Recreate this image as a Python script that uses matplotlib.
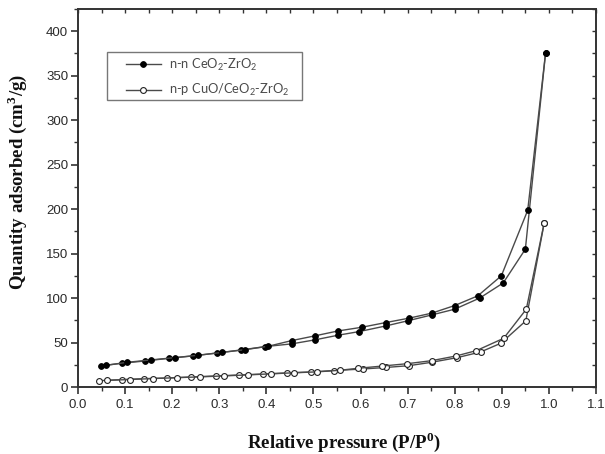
import matplotlib
matplotlib.use("Agg")
import matplotlib.pyplot as plt
from matplotlib.ticker import MultipleLocator
from matplotlib.patches import Rectangle

# ---- data ----
p_ads_nn = [0.049, 0.093, 0.143, 0.194, 0.245, 0.296, 0.347, 0.397, 0.454, 0.503,
            0.552, 0.597, 0.654, 0.700, 0.751, 0.800, 0.853, 0.903, 0.950, 0.993]
q_ads_nn = [23.7, 26.7, 29.3, 32.3, 35.0, 38.3, 41.7, 45.4, 48.5, 53.0,
            58.2, 62.3, 68.7, 74.4, 81.0, 87.5, 100.0, 117.0, 155.0, 376.0]
p_des_nn = [0.993, 0.955, 0.899, 0.849, 0.800, 0.751, 0.703, 0.654, 0.603, 0.552,
            0.503, 0.454, 0.404, 0.355, 0.305, 0.255, 0.205, 0.154, 0.105, 0.059]
q_des_nn = [376.0, 198.7, 125.0, 102.5, 91.6, 83.0, 77.4, 72.5, 67.2, 63.0,
            57.5, 52.2, 45.8, 42.0, 38.8, 35.7, 33.0, 30.4, 27.8, 24.4]

p_ads_np = [0.045, 0.093, 0.141, 0.190, 0.241, 0.292, 0.342, 0.392, 0.443, 0.494,
            0.544, 0.606, 0.655, 0.703, 0.751, 0.805, 0.855, 0.898, 0.951, 0.990]
q_ads_np = [7.1, 8.3, 9.4, 10.1, 11.3, 12.4, 13.5, 14.6, 15.8, 16.9,
            18.5, 20.3, 22.0, 24.0, 27.8, 33.0, 39.4, 49.2, 74.4, 184.4]
p_des_np = [0.990, 0.952, 0.904, 0.846, 0.803, 0.751, 0.699, 0.645, 0.594, 0.556,
            0.507, 0.459, 0.410, 0.360, 0.311, 0.260, 0.210, 0.160, 0.110, 0.062]
q_des_np = [184.4, 87.5, 54.8, 40.9, 34.9, 29.6, 26.2, 23.5, 21.0, 18.8,
            17.0, 16.0, 14.8, 13.6, 12.5, 11.4, 10.5, 9.5, 8.4, 7.5]

labels = ["n-n CeO$_2$-ZrO$_2$", "n-p CuO/CeO$_2$-ZrO$_2$"]

plt.rcParams['font.family'] = ['Liberation Sans', 'DejaVu Sans']
plt.rcParams['mathtext.fontset'] = 'custom'
plt.rcParams['mathtext.rm'] = 'Lato'
plt.rcParams['mathtext.bf'] = 'Liberation Serif:bold'

fig = plt.figure(figsize=(6.05, 4.54), dpi=100)
ax = fig.add_axes([78/605, 1-387/454, (596-78)/605, (387-9)/454])

line_col = '#4a4a4a'
l1, = ax.plot(p_ads_nn, q_ads_nn, '-', color=line_col, lw=1.0, marker='o', ms=4.2,
              mfc='black', mec='black', mew=0.6, label=labels[0], zorder=3)
ax.plot(p_des_nn, q_des_nn, '-', color=line_col, lw=1.0, marker='o', ms=4.2,
        mfc='black', mec='black', mew=0.6, zorder=3)
l2, = ax.plot(p_ads_np, q_ads_np, '-', color=line_col, lw=1.0, marker='o', ms=4.2,
              mfc='white', mec='#222222', mew=0.8, label=labels[1], zorder=3)
ax.plot(p_des_np, q_des_np, '-', color=line_col, lw=1.0, marker='o', ms=4.2,
        mfc='white', mec='#222222', mew=0.8, zorder=3)

ax.set_xlim(0, 1.1)
ax.set_ylim(0, 425)
ax.xaxis.set_major_locator(MultipleLocator(0.1))
ax.xaxis.set_minor_locator(MultipleLocator(0.05))
ax.yaxis.set_major_locator(MultipleLocator(50))
ax.yaxis.set_minor_locator(MultipleLocator(25))
ax.xaxis.set_major_formatter(matplotlib.ticker.FormatStrFormatter('%.1f'))

spine_col = '#333333'
for s in ax.spines.values():
    s.set_color(spine_col)
    s.set_linewidth(1.4)

ax.tick_params(which='major', direction='out', length=5, width=1.2, color=spine_col,
               labelsize=9.5, labelcolor='#2a2a2a')
ax.tick_params(which='minor', direction='out', length=3, width=1.0, color=spine_col)
ax.tick_params(axis='x', which='major', pad=4)
ax.tick_params(axis='y', which='major', pad=2)

# top/right inward ticks without labels
sx = ax.secondary_xaxis('top')
sx.xaxis.set_major_locator(MultipleLocator(0.05))
sx.tick_params(direction='in', length=3, width=1.0, color=spine_col, labeltop=False)
sx.spines['top'].set_visible(False)
sy = ax.secondary_yaxis('right')
sy.yaxis.set_major_locator(MultipleLocator(25))
sy.tick_params(direction='in', length=3, width=1.0, color=spine_col, labelright=False)
sy.spines['right'].set_visible(False)

ax.set_xlabel("Relative pressure (P/P$^{\\mathbf{0}}$)", family='Liberation Serif',
              fontweight='bold', fontsize=13.6, color='#111111', va='center', ha='center')
ax.set_ylabel("Quantity adsorbed (cm$^{\\mathbf{3}}$/g)", family='Liberation Serif',
              fontweight='bold', fontsize=13.6, color='#111111', va='center', ha='center')
ax.xaxis.set_label_coords((344-78)/518, -(442-387)/378)
ax.yaxis.set_label_coords(-(78-17)/518, (387-182)/378)

# legend box drawn separately
ax.add_patch(Rectangle(((107-78)/518, (387-100)/378), (302-107)/518, 48/378,
                       transform=ax.transAxes, fill=True, facecolor='white',
                       edgecolor='#777777', lw=1.0, zorder=4))
leg = ax.legend(handles=[l1, l2], loc='upper left',
                bbox_to_anchor=((126-78)/518, (387-57)/378),
                borderaxespad=0, borderpad=0, frameon=False,
                prop={'family': 'Lato', 'size': 9.3},
                handlelength=2.7, handletextpad=0.6, labelspacing=0.7,
                numpoints=1)
leg.set_zorder(5)
for t in leg.get_texts():
    t.set_color('#4a4a4a')

fig.savefig("out.png", dpi=100)
